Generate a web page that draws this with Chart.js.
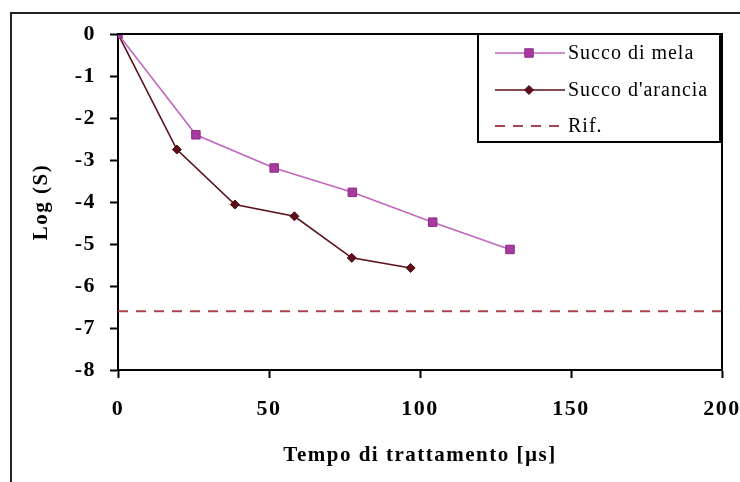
<!DOCTYPE html>
<html>
<head>
<meta charset="utf-8">
<script src="https://cdn.jsdelivr.net/npm/chart.js@4.4.1/dist/chart.umd.min.js"></script>
<style>
  html, body { margin: 0; padding: 0; background: #fff; }
  #chart { display: block; }
</style>
</head>
<body>
<canvas id="chart" width="740" height="482"></canvas>
<script>
// values
const appleTimes = [0, 25.8, 51.7, 77.6, 104.2, 129.8];
const appleLog = [0, -2.4, -3.19, -3.77, -4.48, -5.13];
const orangeTimes = [0, 19.5, 38.7, 58.4, 77.4, 96.9];
const orangeLog = [0, -2.75, -4.06, -4.34, -5.33, -5.57];
const refTimes = [0, 200];
const refLog = [-6.6, -6.6];

const seriesNames = ["Succo di mela", "Succo d'arancia", "Rif."];
const xTitle = "Tempo di trattamento [\u00b5s]";
const yTitle = "Log (S)";

const serif = "'Liberation Serif', 'Times New Roman', serif";

function toPoints(xs, ys) {
    return xs.map((x, i) => ({ x: x, y: ys[i] }));
}

// frame round the whole figure, box round the plot area, legend box
const framePlugin = {
    id: "frame",
    beforeDraw(chart) {
        chart.ctx.letterSpacing = "1.5px";
    },
    afterDraw(chart) {
        const ctx = chart.ctx;
        const a = chart.chartArea;
        ctx.save();
        ctx.letterSpacing = "0px";
        ctx.strokeStyle = "#222";
        ctx.lineWidth = 2;
        ctx.beginPath();
        ctx.moveTo(740, 13);
        ctx.lineTo(11, 13);
        ctx.lineTo(11, 482);
        ctx.stroke();

        ctx.strokeStyle = "#000";
        ctx.beginPath();
        ctx.moveTo(a.left, a.top);
        ctx.lineTo(a.right, a.top);
        ctx.lineTo(a.right, a.bottom);
        ctx.stroke();

        // legend
        const box = { left: 478, top: a.top, right: a.right - 2, bottom: 142 };
        ctx.fillStyle = "#fff";
        ctx.fillRect(box.left, box.top, box.right - box.left, box.bottom - box.top);
        ctx.strokeRect(box.left, box.top, box.right - box.left, box.bottom - box.top);
        const rows = [53, 90, 126];
        chart.data.datasets.forEach((ds, i) => {
            const y = rows[i];
            ctx.save();
            ctx.strokeStyle = ds.borderColor;
            ctx.lineWidth = ds.borderWidth;
            ctx.setLineDash(ds.borderDash || []);
            ctx.beginPath();
            ctx.moveTo(495, y);
            ctx.lineTo(565, y);
            ctx.stroke();
            ctx.restore();
            if (ds.pointRadius > 0) {
                ctx.save();
                ctx.fillStyle = ds.pointBackgroundColor;
                ctx.strokeStyle = ds.pointBorderColor;
                ctx.lineWidth = 1;
                Chart.helpers.drawPoint(ctx, {
                    pointStyle: ds.pointStyle,
                    radius: ds.pointRadius,
                    rotation: 0,
                    borderWidth: 1
                }, 529, y);
                ctx.restore();
            }
            ctx.fillStyle = "#000";
            ctx.font = "20px " + serif;
            ctx.letterSpacing = "1px";
            ctx.textBaseline = "middle";
            ctx.textAlign = "left";
            ctx.fillText(ds.label, 568, y + 1);
        });
        ctx.restore();
    }
};

const tickFont = { family: serif, weight: "bold", size: 22 };
const titleFont = { family: serif, weight: "bold", size: 21 };

new Chart(document.getElementById("chart"), {
    type: "line",
    data: {
        datasets: [
            {
                label: seriesNames[0],
                data: toPoints(appleTimes, appleLog),
                borderColor: "#C166BE",
                borderWidth: 1.6,
                pointStyle: "rect",
                pointRadius: 6,
                pointBackgroundColor: "#A8399F",
                pointBorderColor: "#8C2A85",
                pointBorderWidth: 1
            },
            {
                label: seriesNames[1],
                data: toPoints(orangeTimes, orangeLog),
                borderColor: "#5A1019",
                borderWidth: 1.6,
                pointStyle: "rectRot",
                pointRadius: 4.5,
                pointBackgroundColor: "#5E0E18",
                pointBorderColor: "#4A0A12",
                pointBorderWidth: 1
            },
            {
                label: seriesNames[2],
                data: toPoints(refTimes, refLog),
                borderColor: "#A8434F",
                borderWidth: 2,
                borderDash: [10, 8],
                pointRadius: 0
            }
        ]
    },
    options: {
        responsive: false,
        animation: false,
        devicePixelRatio: 1,
        layout: { padding: { top: 34, right: 18, left: 0, bottom: 0 } },
        plugins: {
            legend: { display: false },
            tooltip: { enabled: false }
        },
        scales: {
            x: {
                type: "linear",
                min: 0,
                max: 200,
                ticks: {
                    stepSize: 50,
                    color: "#000",
                    font: tickFont,
                    padding: 18,
                    maxRotation: 0
                },
                grid: {
                    drawOnChartArea: false,
                    tickLength: 8,
                    tickColor: "#000",
                    tickWidth: 2
                },
                border: { color: "#000", width: 2 },
                title: {
                    display: true,
                    text: xTitle,
                    color: "#000",
                    font: titleFont,
                    padding: { top: 0, bottom: 14 }
                },
                afterFit: s => {
                    s.height = 112;
                    s.paddingLeft = 0;
                    s.paddingRight = 0;
                }
            },
            y: {
                min: -8,
                max: 0,
                ticks: {
                    stepSize: 1,
                    color: "#000",
                    font: tickFont,
                    padding: 14
                },
                grid: {
                    drawOnChartArea: false,
                    tickLength: 8,
                    tickColor: "#000",
                    tickWidth: 2
                },
                border: { color: "#000", width: 2 },
                title: {
                    display: true,
                    text: yTitle,
                    color: "#000",
                    font: titleFont,
                    padding: { top: 29, bottom: 0 }
                },
                afterFit: s => {
                    s.width = 118;
                    s.paddingTop = 0;
                    s.paddingBottom = 0;
                }
            }
        }
    },
    plugins: [framePlugin]
});
</script>
</body>
</html>
